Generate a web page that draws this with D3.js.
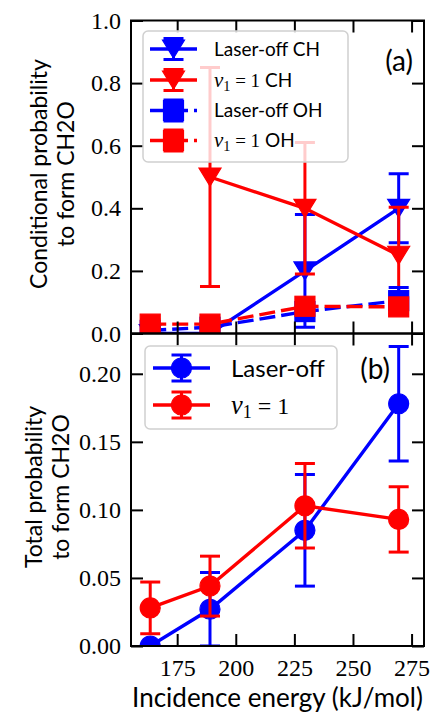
<!DOCTYPE html>
<html>
<head>
<meta charset="utf-8">
<script src="https://cdn.jsdelivr.net/npm/d3@7"></script>
<style>
  body { margin: 0; background: #fff; }
  text { fill: #000; }
  .axis text { font-family: 'Liberation Serif', 'DejaVu Serif', serif; font-size: 24px; }
</style>
</head>
<body>
<div id="chart"></div>
<script>
// incidence energies (kJ/mol)
var energies = [163.5, 189, 229.5, 269.5];
var xTicks = [175, 200, 225, 250, 275];

// (a) conditional probability to form CH2O
var condOffCH = [0, 0, 0.2, 0.4];
var condOffCHErr = [0, 0, 0.18, 0.11];
var condV1CH = [null, 0.5, 0.4, 0.25];
var condV1CHErr = [null, 0.35, 0.21, 0.153];
var condOffOH = [0.01, 0.02, 0.07, 0.105];
var condOffOHErr = [0.01, 0.015, 0.017, 0.042];
var condV1OH = [0.03, 0.03, 0.087, 0.085];
var condV1OHErr = [0.015, 0.015, 0.018, 0.018];
var condTicks = [0, 0.2, 0.4, 0.6, 0.8, 1.0];

// (b) total probability to form CH2O
var totOff = [0, 0.027, 0.085, 0.178];
var totOffErr = [0, 0.027, 0.041, 0.042];
var totV1 = [0.028, 0.044, 0.103, 0.093];
var totV1Err = [0.019, 0.022, 0.031, 0.024];
var totTicks = [0, 0.05, 0.10, 0.15, 0.20];

var W = 432, H = 716;
var left = 131, right = 424;
var blue = "#0000ff", red = "#ff0000";
var serif = "'Liberation Serif', 'DejaVu Serif', serif";
var sans = "Lato, 'Open Sans', sans-serif";

var svg = d3.select("#chart").append("svg")
    .attr("width", W)
    .attr("height", H);

var x = d3.scaleLinear().domain([155.3, 280.3]).range([left, right]);

var yA = d3.scaleLinear().domain([0, 1]).range([333.5, 20.5]);
var yB = d3.scaleLinear().domain([0, 0.2296]).range([646, 333.5]);

function marker(g, type, cx, cy, color) {
    if (type === "tri") {
        g.append("path")
            .attr("d", "M" + (cx - 11) + "," + (cy - 9) + "L" + (cx + 11) + "," + (cy - 9) + "L" + cx + "," + (cy + 9) + "Z")
            .attr("fill", color).attr("stroke", color).attr("stroke-width", 1.2);
    } else if (type === "sq") {
        g.append("rect")
            .attr("x", cx - 10).attr("y", cy - 10).attr("width", 20).attr("height", 20)
            .attr("fill", color).attr("stroke", color).attr("stroke-width", 1.2);
    } else {
        g.append("circle")
            .attr("cx", cx).attr("cy", cy).attr("r", 10)
            .attr("fill", color).attr("stroke", color).attr("stroke-width", 1.2);
    }
}

function errBar(g, cx, y0, y1, color) {
    g.append("line").attr("x1", cx).attr("x2", cx).attr("y1", y0).attr("y2", y1)
        .attr("stroke", color).attr("stroke-width", 3);
    [y0, y1].forEach(function (yy) {
        g.append("line").attr("x1", cx - 10).attr("x2", cx + 10).attr("y1", yy).attr("y2", yy)
            .attr("stroke", color).attr("stroke-width", 3);
    });
}

function series(g, y, vals, errs, color, type, dashed) {
    var pts = [];
    vals.forEach(function (v, i) {
        if (v === null) return;
        pts.push([x(energies[i]), y(v)]);
        errBar(g, x(energies[i]), y(v - errs[i]), y(v + errs[i]), color);
    });
    g.append("path")
        .attr("d", d3.line()(pts))
        .attr("fill", "none")
        .attr("stroke", color)
        .attr("stroke-width", 3.4)
        .attr("stroke-dasharray", dashed ? "16,6" : null);
    pts.forEach(function (p) { marker(g, type, p[0], p[1], color); });
}

function styleAxis(sel) {
    sel.attr("class", "axis").attr("font-family", serif).attr("font-size", 24);
    sel.select(".domain").remove();
    sel.selectAll(".tick line").attr("stroke", "#000").attr("stroke-width", 2);
}

function panel(id, y, top, bottom, ticks, fmt, showX) {
    svg.append("clipPath").attr("id", id)
        .append("rect").attr("x", left).attr("y", top).attr("width", right - left).attr("height", bottom - top);
    var g = svg.append("g");
    var data = g.append("g").attr("clip-path", "url(#" + id + ")");

    svg.append("g").attr("transform", "translate(" + left + ",0)")
        .call(d3.axisLeft(y).tickValues(ticks).tickFormat(d3.format(fmt)).tickSize(-12).tickPadding(10))
        .call(styleAxis);
    svg.append("g").attr("transform", "translate(" + right + ",0)")
        .call(d3.axisRight(y).tickValues(ticks).tickSize(-12).tickFormat(""))
        .call(styleAxis);
    svg.append("g").attr("transform", "translate(0," + bottom + ")")
        .call(d3.axisBottom(x).tickValues(xTicks).tickSize(-12).tickPadding(13)
            .tickFormat(showX ? d3.format("d") : ""))
        .call(styleAxis);
    svg.append("g").attr("transform", "translate(0," + top + ")")
        .call(d3.axisTop(x).tickValues(xTicks).tickSize(-12).tickFormat(""))
        .call(styleAxis);
    svg.append("rect").attr("x", left).attr("y", top).attr("width", right - left).attr("height", bottom - top)
        .attr("fill", "none").attr("stroke", "#000").attr("stroke-width", 2);
    return {data: data, front: svg.append("g")};
}

function nuText(t, size, tail) {
    t.append("tspan").attr("font-family", serif).attr("font-style", "italic").attr("font-size", size * 1.1).text("ν");
    t.append("tspan").attr("font-family", serif).attr("font-size", size * 0.75).attr("dy", size * 0.2).text("1");
    t.append("tspan").attr("font-family", serif).attr("font-size", size).attr("dy", -size * 0.2).text(" = 1");
    if (tail) t.append("tspan").attr("font-family", sans).attr("font-size", size).text(tail);
}

function legend(g, box, rows, size, hx0, hx1, tx, capH) {
    g.append("rect").attr("x", box[0]).attr("y", box[1]).attr("width", box[2]).attr("height", box[3])
        .attr("rx", 5).attr("fill", "#fff").attr("fill-opacity", 0.8)
        .attr("stroke", "#d0d0d0").attr("stroke-width", 1.5);
    rows.forEach(function (r) {
        var cx = (hx0 + hx1) / 2;
        errBar(g, cx, r.y - capH, r.y + capH, r.color);
        g.append("line").attr("x1", hx0).attr("x2", hx1).attr("y1", r.y).attr("y2", r.y)
            .attr("stroke", r.color).attr("stroke-width", 3.4)
            .attr("stroke-dasharray", r.dashed ? "16,6" : null);
        marker(g, r.type, cx, r.y, r.color);
        var t = g.append("text").attr("x", tx).attr("y", r.y + size * 0.36).attr("font-size", size);
        if (r.nu) nuText(t, size, r.tail);
        else t.attr("font-family", sans).text(r.label);
    });
}

// panel (a)
var pa = panel("clipA", yA, 20.5, 333.5, condTicks, ".1f", false);
series(pa.data, yA, condOffCH, condOffCHErr, blue, "tri", false);
series(pa.data, yA, condV1CH, condV1CHErr, red, "tri", false);
series(pa.data, yA, condOffOH, condOffOHErr, blue, "sq", true);
series(pa.data, yA, condV1OH, condV1OHErr, red, "sq", true);
legend(pa.front, [143, 31, 205, 131], [
    {y: 49, color: blue, type: "tri", label: "Laser-off CH"},
    {y: 80, color: red, type: "tri", nu: true, tail: " CH"},
    {y: 110.5, color: blue, type: "sq", dashed: true, label: "Laser-off OH"},
    {y: 140.5, color: red, type: "sq", dashed: true, nu: true, tail: " OH"}
], 19, 150, 197, 214, 10.5);
pa.front.append("text").attr("x", 413).attr("y", 71).attr("text-anchor", "end")
    .attr("font-family", sans).attr("font-size", 28).text("(a)");

// panel (b)
var pb = panel("clipB", yB, 333.5, 646, totTicks, ".2f", true);
series(pb.data, yB, totOff, totOffErr, blue, "circ", false);
series(pb.data, yB, totV1, totV1Err, red, "circ", false);
legend(pb.front, [145, 346, 192, 83], [
    {y: 368, color: blue, type: "circ", label: "Laser-off"},
    {y: 405, color: red, type: "circ", nu: true}
], 24, 153, 210, 231, 13);
pb.front.append("text").attr("x", 390).attr("y", 379).attr("text-anchor", "end")
    .attr("font-family", sans).attr("font-size", 28).text("(b)");

// axis titles
function ylab(cx, cy, lines) {
    var t = svg.append("text").attr("transform", "translate(" + cx + "," + cy + ") rotate(-90)")
        .attr("text-anchor", "middle").attr("font-family", sans).attr("font-size", 23);
    lines.forEach(function (l, i) {
        t.append("tspan").attr("x", 0).attr("y", i * 27).text(l);
    });
}
ylab(47, 174, ["Conditional probability", "to form CH2O"]);
ylab(42, 487, ["Total probability", "to form CH2O"]);

svg.append("text").attr("x", (left + right) / 2).attr("y", 707)
    .attr("text-anchor", "middle").attr("font-family", sans).attr("font-size", 26)
    .text("Incidence energy (kJ/mol)");
</script>
</body>
</html>
